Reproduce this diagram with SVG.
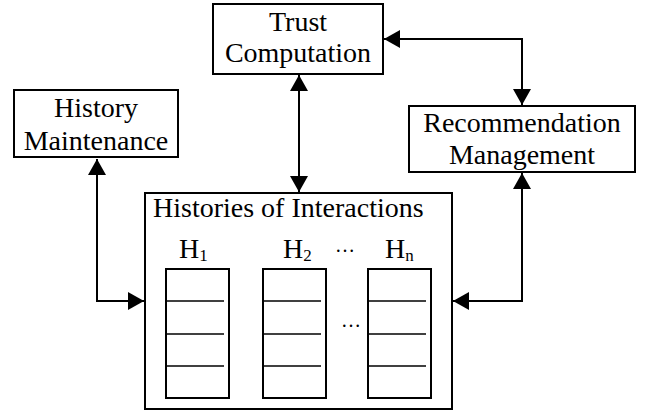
<svg xmlns="http://www.w3.org/2000/svg" width="646" height="412" viewBox="0 0 646 412">
  <style>
    .box { fill: #ffffff; stroke: #000000; stroke-width: 2; }
    .col { fill: #ffffff; stroke: #000000; stroke-width: 2; }
    .row { stroke: #000000; stroke-width: 1.4; }
    .link { fill: none; stroke: #000000; stroke-width: 2; marker-start: url(#head); marker-end: url(#head); }
    text { font-family: 'Liberation Serif', 'DejaVu Serif', serif; fill: #000000; }
    .lbl { font-size: 28px; text-anchor: middle; }
    .hl { font-size: 28px; }
    .sub { font-size: 17px; }
    .dots { font-size: 20px; }
  </style>
  <defs>
    <marker id="head" markerUnits="userSpaceOnUse" markerWidth="17" markerHeight="18" refX="16" refY="9" orient="auto-start-reverse" viewBox="0 0 17 18">
      <path d="M0,0 L16,9 L0,18 Z" fill="#000000"/>
    </marker>
  </defs>

  <g id="connectors">
    <path class="link" d="M97,159 V301 H144"/>
    <path class="link" d="M299,75 V192"/>
    <path class="link" d="M384,39 H522 V105"/>
    <path class="link" d="M522,173 V301 H453"/>
  </g>

  <g id="trust-computation">
    <rect class="box" x="213" y="4" width="170" height="70"/>
    <text class="lbl" x="298" y="31">Trust</text>
    <text class="lbl" x="298" y="62">Computation</text>
  </g>

  <g id="history-maintenance">
    <rect class="box" x="14" y="90" width="164" height="67"/>
    <text class="lbl" x="96" y="117">History</text>
    <text class="lbl" x="96" y="150">Maintenance</text>
  </g>

  <g id="recommendation-management">
    <rect class="box" x="409" y="106" width="226" height="66"/>
    <text class="lbl" x="522" y="132">Recommendation</text>
    <text class="lbl" x="522" y="164">Management</text>
  </g>

  <g id="histories-of-interactions">
    <rect class="box" x="145" y="193" width="307" height="216"/>
    <text class="hl" x="153" y="217">Histories of Interactions</text>

    <g id="history-1">
      <text class="hl" x="179" y="258">H<tspan class="sub" dy="3">1</tspan></text>
      <rect class="col" x="166" y="269" width="63" height="129"/>
      <line class="row" x1="166" y1="301" x2="224" y2="301"/>
      <line class="row" x1="166" y1="334" x2="224" y2="334"/>
      <line class="row" x1="166" y1="366" x2="224" y2="366"/>
    </g>

    <g id="history-2">
      <text class="hl" x="283" y="258">H<tspan class="sub" dy="3">2</tspan></text>
      <rect class="col" x="263" y="269" width="63" height="129"/>
      <line class="row" x1="263" y1="301" x2="321" y2="301"/>
      <line class="row" x1="263" y1="334" x2="321" y2="334"/>
      <line class="row" x1="263" y1="366" x2="321" y2="366"/>
    </g>

    <text class="dots" x="335" y="252">…</text>
    <text class="dots" x="341" y="327">…</text>

    <g id="history-n">
      <text class="hl" x="385" y="258">H<tspan class="sub" dy="3">n</tspan></text>
      <rect class="col" x="368" y="269" width="63" height="129"/>
      <line class="row" x1="368" y1="301" x2="426" y2="301"/>
      <line class="row" x1="368" y1="334" x2="426" y2="334"/>
      <line class="row" x1="368" y1="366" x2="426" y2="366"/>
    </g>
  </g>
</svg>
